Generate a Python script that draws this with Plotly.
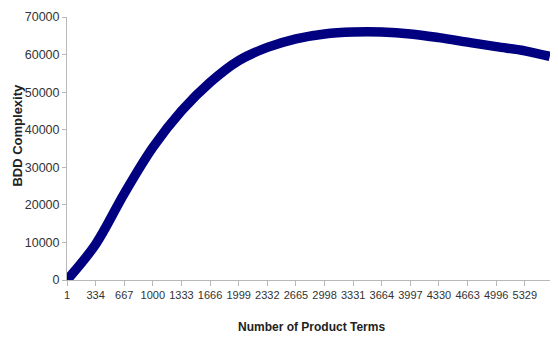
import plotly.graph_objects as go

# Data
product_terms = [1, 334, 667, 1000, 1333, 1666, 1999, 2332, 2665, 2998,
                 3331, 3664, 3997, 4330, 4663, 4996, 5329, 5620]
bdd_complexity = [0, 9500, 23000, 35300, 45000, 52600, 58400, 61900, 64200, 65500,
                  66000, 66000, 65500, 64500, 63300, 62100, 61000, 59500]

x_tick_labels = [1, 334, 667, 1000, 1333, 1666, 1999, 2332, 2665, 2998,
                 3331, 3664, 3997, 4330, 4663, 4996, 5329]
y_tick_values = [0, 10000, 20000, 30000, 40000, 50000, 60000, 70000]

fig = go.Figure()
fig.add_trace(go.Scatter(
    x=product_terms, y=bdd_complexity,
    mode="lines",
    line=dict(color="#000080", width=9.5, shape="spline", smoothing=1.0),
    showlegend=False,
))

axis_line = "#b8b8b8"
fig.update_xaxes(
    range=[1, 5680],
    automargin=False,
    tickmode="array",
    tickvals=x_tick_labels,
    ticktext=[str(v) for v in x_tick_labels],
    tickangle=0,
    ticks="outside", ticklen=5, tickcolor=axis_line,
    showline=True, linecolor=axis_line, linewidth=1,
    showgrid=False, zeroline=False,
    tickfont=dict(family="Liberation Sans, Arial", size=11, color="#333333"),
)
fig.update_yaxes(
    range=[0, 70000],
    automargin=False,
    tickmode="array",
    tickvals=y_tick_values,
    ticktext=[str(v) for v in y_tick_values],
    ticks="outside", ticklen=4, tickcolor=axis_line,
    showline=True, linecolor=axis_line, linewidth=1,
    showgrid=False, zeroline=False,
    tickfont=dict(family="Liberation Sans, Arial", size=12.5, color="#333333"),
)
fig.add_annotation(
    text="<b>Number of Product Terms</b>",
    xref="paper", yref="paper", x=0.5, y=-0.179,
    xanchor="center", yanchor="middle", showarrow=False,
    font=dict(family="Liberation Sans, Arial", size=12, color="#222222"),
)
fig.add_annotation(
    text="<b>BDD Complexity</b>",
    xref="paper", yref="paper", x=-0.1209, y=0.551,
    xanchor="left", yanchor="middle", showarrow=False, textangle=-90,
    font=dict(family="Liberation Sans, Arial", size=13, color="#222222"),
)
# page has an 8px body margin, so the figure is sized and offset to compensate
fig.update_layout(
    width=550, height=332,
    margin=dict(l=59, r=3, t=9, b=60),
    paper_bgcolor="white", plot_bgcolor="white",
)
fig.write_html("out.html")
